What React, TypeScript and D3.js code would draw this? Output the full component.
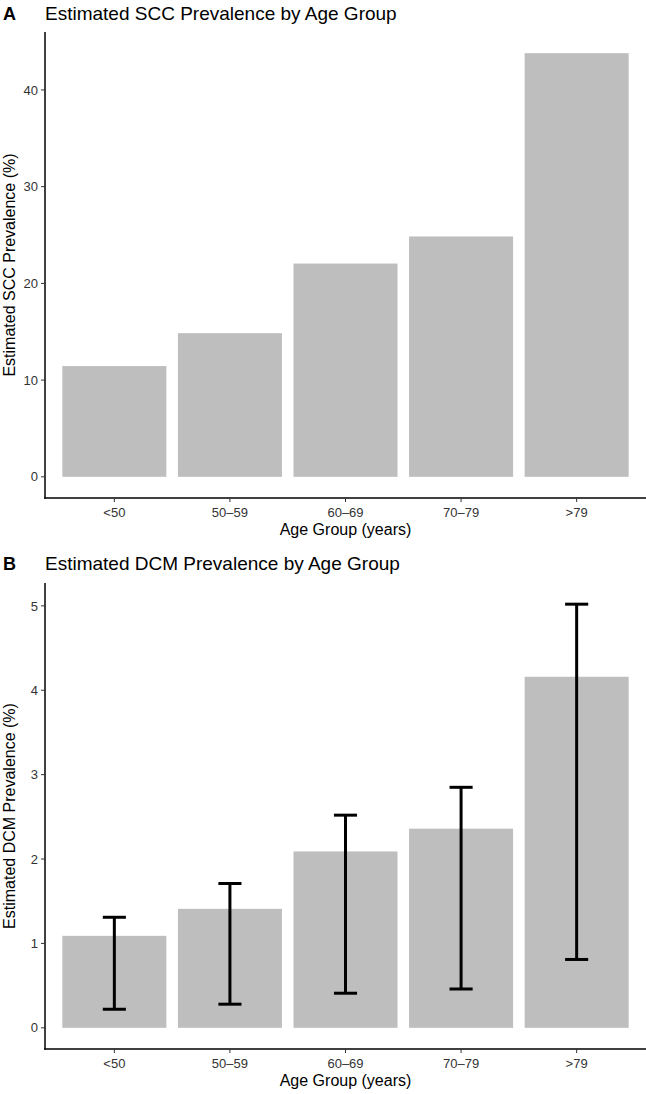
import React from "react";
import * as d3 from "d3";

const categories = ["<50", "50–59", "60–69", "70–79", ">79"];
const sccValues = [11.45, 14.85, 22.05, 24.85, 43.8];
const dcmValues = [1.09, 1.41, 2.09, 2.36, 4.16];
const dcmLower = [0.22, 0.28, 0.41, 0.46, 0.81];
const dcmUpper = [1.31, 1.71, 2.52, 2.85, 5.02];
const sccTicks = [0, 10, 20, 30, 40];
const dcmTicks = [0, 1, 2, 3, 4, 5];

const FONT = "'Liberation Sans', Arial, Helvetica, sans-serif";
const W = 646;

type PanelProps = {
  letter: string;
  title: string;
  yTitle: string;
  values: number[];
  ticks: number[];
  lower?: number[];
  upper?: number[];
  top: number;
  bottom: number;
  titleY: number;
};

function Panel({ letter, title, yTitle, values, ticks, lower, upper, top, bottom, titleY }: PanelProps) {
  const left = 45;
  const right = W;
  const maxV = d3.max(upper ?? values) as number;
  const span = maxV - 0;
  const y = d3.scaleLinear().domain([0 - span * 0.05, maxV + span * 0.05]).range([bottom, top]);
  const unit = (right - left) / 5.2;
  const x = (i: number) => left + (0.6 + i) * unit;
  const bw = unit * 0.9;
  const ew = unit * 0.2;
  return (
    <g>
      <text x={3} y={titleY} fontFamily={FONT} fontWeight="bold" fontSize={18}>{letter}</text>
      <text x={45} y={titleY} fontFamily={FONT} fontSize={19}>{title}</text>
      {values.map((v, i) => (
        <rect key={i} x={x(i) - bw / 2} y={y(v)} width={bw} height={y(0) - y(v)} fill="#bebebe" />
      ))}
      {lower && upper && values.map((_, i) => (
        <g key={"e" + i} stroke="#000" strokeWidth={3} fill="none">
          <line x1={x(i)} x2={x(i)} y1={y(lower[i])} y2={y(upper[i])} />
          <line x1={x(i) - ew / 2} x2={x(i) + ew / 2} y1={y(lower[i])} y2={y(lower[i])} />
          <line x1={x(i) - ew / 2} x2={x(i) + ew / 2} y1={y(upper[i])} y2={y(upper[i])} />
        </g>
      ))}
      <line x1={left} x2={left} y1={top} y2={bottom + 0.75} stroke="#000" strokeWidth={1.5} />
      <line x1={left - 0.75} x2={right} y1={bottom} y2={bottom} stroke="#000" strokeWidth={1.5} />
      {ticks.map((t) => (
        <g key={"t" + t}>
          <line x1={left - 4} x2={left} y1={y(t)} y2={y(t)} stroke="#333" strokeWidth={1} />
          <text x={left - 7} y={y(t)} dy="0.36em" textAnchor="end" fontFamily={FONT} fontSize={13} fill="#333">{t}</text>
        </g>
      ))}
      {categories.map((c, i) => (
        <g key={"c" + i}>
          <line x1={x(i)} x2={x(i)} y1={bottom} y2={bottom + 4} stroke="#333" strokeWidth={1} />
          <text x={x(i)} y={bottom + 19} textAnchor="middle" fontFamily={FONT} fontSize={13} fill="#333">{c}</text>
        </g>
      ))}
      <text x={(left + right) / 2} y={bottom + 37} textAnchor="middle" fontFamily={FONT} fontSize={16}>Age Group (years)</text>
      <text transform={`translate(14.5,${(top + bottom) / 2}) rotate(-90)`} textAnchor="middle" fontFamily={FONT} fontSize={16}>{yTitle}</text>
    </g>
  );
}

export default function App() {
  return (
    <svg width={W} height={1094} style={{ position: "absolute", left: 0, top: 0, background: "#fff" }}>
      <rect width={W} height={1094} fill="#fff" />
      <Panel letter="A" title="Estimated SCC Prevalence by Age Group" yTitle="Estimated SCC Prevalence (%)"
        values={sccValues} ticks={sccTicks} top={32} bottom={498} titleY={19.5} />
      <Panel letter="B" title="Estimated DCM Prevalence by Age Group" yTitle="Estimated DCM Prevalence (%)"
        values={dcmValues} ticks={dcmTicks} lower={dcmLower} upper={dcmUpper} top={583} bottom={1049} titleY={570} />
    </svg>
  );
}
